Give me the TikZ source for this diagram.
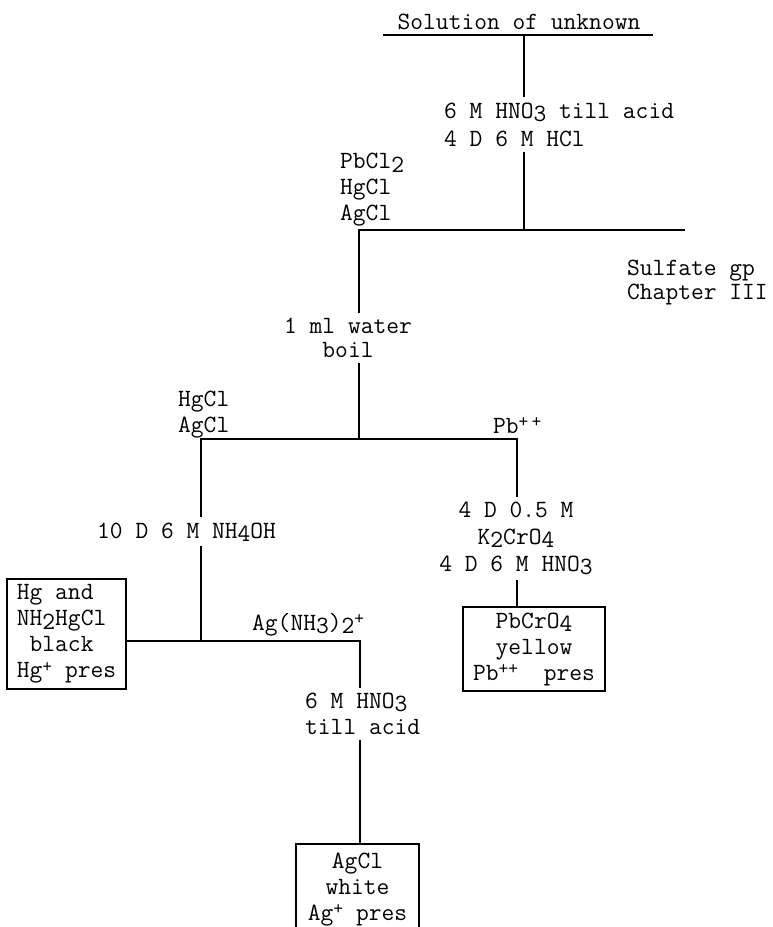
\documentclass[tikz,border=0pt]{standalone}
\newcommand\tysize{\fontsize{24.8}{26}\selectfont\ttfamily}
\newcommand\dn[1]{\raisebox{-0.3ex}{#1}}
\newcommand\up[1]{\raisebox{0.55ex}{\fontsize{19}{19}\selectfont #1}}
\tikzset{
  txt/.style={font=\tysize, inner sep=0pt, align=left},
  reag/.style={txt, inner ysep=5pt},
  resbox/.style={draw, line width=2.4pt, font=\tysize, inner sep=2pt},
  line/.style={line width=2.6pt}
}
\begin{document}
\begin{tikzpicture}[x=1pt,y=-1pt]
\clip (0,0) rectangle (773,927);
\coordinate (tl) at (383,35);
\coordinate (tr) at (653,35);
\coordinate (top) at (524,35);
\coordinate (j1) at (524,230);
\coordinate (j1l) at (359,230);
\coordinate (j1r) at (685,230);
\coordinate (j2) at (359,439);
\coordinate (j2l) at (201,439);
\coordinate (j2r) at (517,439);
\coordinate (j3) at (201,641);
\coordinate (j3r) at (360,641);
\node[txt, anchor=base] (sol) at (519,29) {Solution of unknown};
\node[reag, anchor=west] (acid) at (444,124.5) {6 M HNO\dn{3} till acid\\[2pt]4 D 6 M HCl};
\node[txt, anchor=west] (grp1) at (340,190) {PbCl\dn{2}\\HgCl\\AgCl};
\node[txt, anchor=west] (sulf) at (627,283) {Sulfate gp\\[-2pt]Chapter III};
\node[reag, align=center] (boil) at (348,338) {1 ml water\\[-2pt]boil};
\node[txt, anchor=west] (hgag) at (178,415) {HgCl\\AgCl};
\node[txt, anchor=base west] (pb) at (493,433) {Pb\up{+\,+}};
\node[reag, anchor=base west] (nh4oh) at (97,538) {10 D 6 M NH\dn{4}OH};
\node[txt, anchor=base west] (agamm) at (252,630) {Ag(NH\dn{3})\dn{2}\up{+}};
\node[reag, align=center] (chrom) at (516,538.5) {4 D 0.5 M\\[1pt]K\dn{2}CrO\dn{4}\\[1pt]4 D 6 M HNO\dn{3}};
\node[reag, anchor=west] (hno3) at (305,713.5) {6 M HNO\dn{3}\\till acid};
\node[resbox, anchor=north, minimum width=119, minimum height=110, align=left] (hgres) at (66.5,578) {Hg and\\NH\dn{2}HgCl\\\ black\\Hg\up{+} pres};
\node[resbox, anchor=north, minimum width=142, minimum height=84, align=center] (pbres) at (534,606) {PbCrO\dn{4}\\yellow\\Pb\up{++}\ \ pres};
\node[resbox, anchor=north, minimum width=123, minimum height=90, align=center] (agres) at (357.5,843) {AgCl\\white\\Ag\up{+} pres};
\draw[line] (tl) -- (tr);
\draw[line] (top) -- (top |- acid.north);
\draw[line] (top |- acid.south) -- (j1);
\draw[line] (j1r) -- (j1l) -- (j1l |- boil.north);
\draw[line] (j1l |- boil.south) -- (j2);
\draw[line] (j2r |- chrom.north) -- (j2r) -- (j2l) -- (j2l |- nh4oh.north);
\draw[line] (j2r |- chrom.south) -- (j2r |- pbres.north);
\draw[line] (j2l |- nh4oh.south) -- (j3);
\draw[line] (hgres.east |- j3) -- (j3r) -- (j3r |- hno3.north);
\draw[line] (j3r |- hno3.south) -- (j3r |- agres.north);
\end{tikzpicture}
\end{document}
